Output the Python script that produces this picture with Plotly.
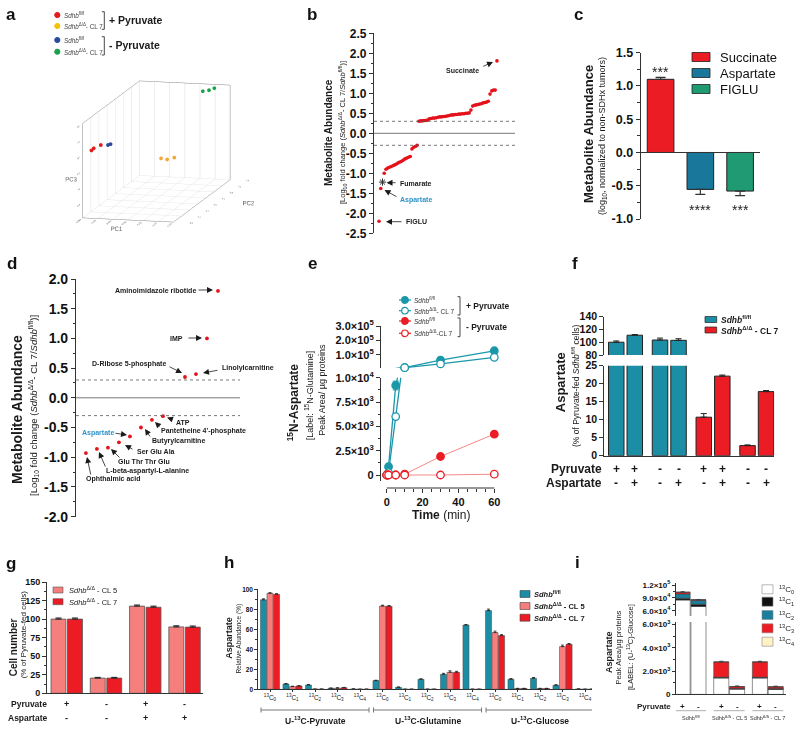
import plotly.graph_objects as go

# ======================= DATA =======================
# (a) PCA scores (PC1, PC2, PC3) for the four groups
a_names = ["<i>Sdhb</i><sup>fl/fl</sup>", "<i>Sdhb</i><sup>Δ/Δ</sup>- CL 7",
           "<i>Sdhb</i><sup>fl/fl</sup>", "<i>Sdhb</i><sup>Δ/Δ</sup>- CL 7"]
a_pc1 = [[-0.2985, -0.2980, -0.2962], [-0.2768, -0.2748, -0.2727],
         [-0.2933, -0.2930, -0.2927], [-0.2780, -0.2765, -0.2750]]
a_pc2 = [[-0.25, -0.24, -0.22], [-0.20, -0.20, -0.19],
         [-0.24, -0.25, -0.23], [0.36, 0.38, 0.39]]
a_pc3 = [[0.02, 0.04, 0.07], [-0.08, -0.09, -0.07],
         [0.09, 0.10, 0.095], [0.34, 0.34, 0.36]]
a_pc1_ticks = [-0.300, -0.295, -0.290, -0.285, -0.280, -0.275, -0.270]
a_pc2_ticks = [-0.3, -0.2, -0.1, 0.0, 0.1, 0.2, 0.3, 0.4]
a_pc3_ticks = [-0.8, -0.6, -0.4, -0.2, 0.0, 0.2, 0.4]

# (b) sorted log10 fold changes
b_special_names = ["FIGLU", "Aspartate", "Fumarate"]
b_special_values = [-2.20, -1.38, -1.22]
b_lower_values = [-1.00, -0.90, -0.87, -0.85, -0.83, -0.81, -0.79, -0.77, -0.74, -0.72,
                  -0.70, -0.67, -0.64, -0.62, -0.60, -0.58, -0.39, -0.35, -0.33, -0.30]
b_upper_values = [0.30, 0.31, 0.31, 0.32, 0.32, 0.33, 0.36, 0.37, 0.38, 0.38, 0.39, 0.40,
                  0.41, 0.41, 0.42, 0.42, 0.43, 0.44, 0.45, 0.46, 0.46, 0.47, 0.47, 0.48,
                  0.48, 0.49, 0.49, 0.50, 0.50, 0.51, 0.58, 0.68, 0.70, 0.71, 0.72, 0.73,
                  0.74, 0.76, 0.77, 0.78, 0.80, 0.98, 1.06, 1.08, 1.08]
b_succinate = 1.81
b_ticks = [-2.5, -2.0, -1.5, -1.0, -0.5, 0.0, 0.5, 1.0, 1.5, 2.0, 2.5]

# (c)
c_names = ["Succinate", "Aspartate", "FIGLU"]
c_values = [1.10, -0.555, -0.58]
c_err_up = [0.03, 0.0, 0.0]
c_err_down = [0.0, 0.075, 0.07]
c_stars = ["***", "****", "***"]
c_ticks = [-1.0, -0.5, 0.0, 0.5, 1.0, 1.5]

# (d)
d_names = ["Ophthalmic acid", "L-beta-aspartyl-L-alanine", "Glu Thr Thr Glu", "Ser Glu Ala",
           "Aspartate", "Butyrylcarnitine", "Pantetheine 4'-phosphate", "ATP",
           "D-Ribose 5-phosphate", "Linolylcarnitine", "IMP", "Aminoimidazole ribotide"]
d_rank = [1, 2, 3, 4, 5, 6, 7, 8, 10, 11, 12, 13]
d_values = [-0.93, -0.86, -0.84, -0.75, -0.65, -0.50, -0.37, -0.31, 0.35, 0.40, 1.00, 1.80]
d_ticks = [-2.0, -1.5, -1.0, -0.5, 0.0, 0.5, 1.0, 1.5, 2.0]

# (e) 15N-aspartate time course
e_time = [0, 1, 5, 10, 30, 60]
e_fl_pyr = [0, 850, 9200, 13000, 65000, 129000]
e_fl_pyr_err = [0, 0, 450, 0, 0, 0]
e_fl_nopyr = [0, 250, 6000, 12500, 38000, 84000]
e_dd_pyr = [0, 0, 0, 80, 1900, 4200]
e_dd_nopyr = [0, 0, 0, 0, 0, 80]
e_low_ticks = [0, 2500, 5000, 7500, 10000]
e_low_ticktext = ["0", "2.5×10<sup>3</sup>", "5.0×10<sup>3</sup>", "7.5×10<sup>3</sup>", "1.0×10<sup>4</sup>"]
e_up_ticks = [100000, 200000, 300000]
e_up_ticktext = ["1.0×10<sup>5</sup>", "2.0×10<sup>5</sup>", "3.0×10<sup>5</sup>"]
e_time_ticks = [0, 20, 40, 60]

# (f) aspartate levels
f_genotype = ["fl", "fl", "dd", "dd"]
f_pyruvate = ["+", "-", "+", "-"]
f_no_asp = [100, 103.5, 10.7, 2.8]
f_no_asp_err = [2, 3, 1.0, 0.2]
f_asp = [111, 103, 22.1, 17.8]
f_asp_err = [1, 2.5, 0.3, 0.3]
f_low_ticks = [0, 5, 10, 15, 20, 25]
f_up_ticks = [80, 100, 120, 140]

# (g) cell number
g_pyruvate = ["+", "-", "+", "-"]
g_aspartate = ["-", "-", "+", "+"]
g_cl5 = [100, 20.5, 117.5, 89.5]
g_cl5_err = [1.5, 1.0, 1.5, 1.5]
g_cl7 = [100, 20.5, 116, 89.2]
g_cl7_err = [1.5, 1.0, 1.5, 1.5]
g_ticks = [0, 25, 50, 75, 100, 125, 150]

# (h) isotopologue distribution
h_tracers = ["U-<sup>13</sup>C-Pyruvate", "U-<sup>13</sup>C-Glutamine", "U-<sup>13</sup>C-Glucose"]
h_isotopologues = ["<sup>13</sup>C<sub>0</sub>", "<sup>13</sup>C<sub>1</sub>", "<sup>13</sup>C<sub>2</sub>",
                   "<sup>13</sup>C<sub>3</sub>", "<sup>13</sup>C<sub>4</sub>"]
h_fl = [89.5, 5.3, 4.3, 1.0, 0.3, 8.7, 2.0, 10.0, 15.0, 64.3, 78.7, 10.0, 11.0, 4.0, 0.3]
h_fl_err = [1.0, 0.5, 0.5, 0.3, 0.1, 0.4, 0.3, 0.5, 1.0, 0.5, 1.5, 0.8, 0.8, 0.6, 0.1]
h_cl5 = [96.0, 2.7, 0.2, 1.2, 0.1, 83.3, 0.1, 0.1, 17.0, 0.1, 56.7, 0.8, 0.8, 42.7, 0.1]
h_cl5_err = [0.6, 0.4, 0.0, 0.3, 0.0, 0.8, 0.0, 0.0, 1.5, 0.0, 1.5, 0.2, 0.2, 1.5, 0.0]
h_cl7 = [95.0, 3.3, 0.2, 1.6, 0.1, 83.0, 0.1, 0.1, 17.0, 0.1, 53.7, 0.8, 0.8, 45.0, 0.1]
h_cl7_err = [0.6, 0.4, 0.0, 0.3, 0.0, 0.8, 0.0, 0.0, 1.0, 0.0, 1.0, 0.2, 0.2, 0.8, 0.0]
h_ticks = [0, 20, 40, 60, 80, 100]

# (i) labelled aspartate peak areas (stacked)
i_genotypes = ["Sdhb<sup>fl/fl</sup>", "Sdhb<sup>Δ/Δ</sup> - CL 5", "Sdhb<sup>Δ/Δ</sup> - CL 7"]
i_pyruvate = ["+", "-", "+", "-", "+", "-"]
i_iso_names = ["<sup>13</sup>C<sub>0</sub>", "<sup>13</sup>C<sub>1</sub>", "<sup>13</sup>C<sub>2</sub>",
               "<sup>13</sup>C<sub>3</sub>", "<sup>13</sup>C<sub>4</sub>"]
i_c0 = [85000, 70000, 1400, 450, 1400, 430]
i_c1 = [4000, 5000, 60, 60, 60, 60]
i_c2 = [10000, 9000, 20, 10, 20, 10]
i_c3 = [4000, 1500, 1300, 150, 1300, 150]
i_c4 = [200, 100, 5, 2, 5, 2]
i_top_err = [1500, 800, 60, 60, 60, 60]
i_low_ticks = [0, 2000, 4000, 6000]
i_low_ticktext = ["0", "2.0×10<sup>3</sup>", "4.0×10<sup>3</sup>", "6.0×10<sup>3</sup>"]
i_up_ticks = [60000, 90000, 120000]
i_up_ticktext = ["6.0×10<sup>4</sup>", "9.0×10<sup>4</sup>", "1.2×10<sup>5</sup>"]

# ======================= STYLE / HELPERS =======================
W, H = 800, 731
FONT = "Arial, Liberation Sans, sans-serif"
DARK = "#1a1a1a"
AX = "#333333"
TEAL = "#1B8EA6"
TEAL_E = "#1A98AA"
RED = "#EC1C24"
PINK = "#F47F7D"
BLUE_T = "#2E93C9"

annotations = []
shapes = []


def px(x):
    return x / W


def py(y):
    return 1 - y / H


def xdom(a, b):
    return [a / W, b / W]


def ydom(top, bottom):
    return [1 - bottom / H, 1 - top / H]


def T(x, y, s, size=8, bold=False, color=DARK, xanchor="center", yanchor="middle",
      angle=0, xref="paper", yref="paper"):
    annotations.append(dict(
        x=px(x) if xref == "paper" else x, y=py(y) if yref == "paper" else y,
        xref=xref, yref=yref, text=s, showarrow=False, textangle=angle,
        font=dict(family=FONT, size=size, color=color, weight="bold" if bold else "normal"),
        xanchor=xanchor, yanchor=yanchor, borderpad=0))


def A(hx, hy, tx, ty, color=DARK, width=0.8, size=1.5):
    annotations.append(dict(x=px(hx), y=py(hy), xref="paper", yref="paper",
                            ax=tx - hx, ay=ty - hy, text="", showarrow=True, arrowhead=2,
                            arrowsize=size, arrowwidth=width, arrowcolor=color, standoff=0))


def L(x0, y0, x1, y1, color=DARK, width=1, dash="solid", xref="paper", yref="paper"):
    shapes.append(dict(type="line", xref=xref, yref=yref,
                       x0=px(x0) if xref == "paper" else x0, x1=px(x1) if xref == "paper" else x1,
                       y0=py(y0) if yref == "paper" else y0, y1=py(y1) if yref == "paper" else y1,
                       line=dict(color=color, width=width, dash=dash)))


def R(x0, y0, x1, y1, fill, line="#222", lw=0.8):
    shapes.append(dict(type="rect", xref="paper", yref="paper", x0=px(x0), x1=px(x1),
                       y0=py(y1), y1=py(y0), fillcolor=fill, line=dict(color=line, width=lw)))


def C(cx, cy, r, fill, line=None, lw=1):
    shapes.append(dict(type="circle", xref="paper", yref="paper", x0=px(cx - r), x1=px(cx + r),
                       y0=py(cy + r), y1=py(cy - r), fillcolor=fill,
                       line=dict(color=line or fill, width=lw)))


def bracket(x, y0, y1, color=DARK):
    L(x - 2.5, y0, x, y0, color, 0.8)
    L(x, y0, x, y1, color, 0.8)
    L(x - 2.5, y1, x, y1, color, 0.8)


def tfont(size, bold=True, color="#111"):
    return dict(family=FONT, size=size, color=color, weight="bold" if bold else "normal")


def yax(domain, rng, anchor, tickvals, ticktext, size, minor=None, ticklen=4, lw=1.2):
    d = dict(domain=domain, range=rng, anchor=anchor, showline=True, linecolor=AX, linewidth=lw,
             ticks="outside", ticklen=ticklen, tickwidth=lw, tickcolor=AX, showgrid=False,
             zeroline=False, tickmode="array", tickvals=tickvals, ticktext=ticktext,
             tickfont=tfont(size), fixedrange=True, layer="above traces", automargin=False)
    if minor is not None:
        d["minor"] = dict(tickmode="array", tickvals=minor, ticks="outside",
                          ticklen=max(2, ticklen * 0.55), tickwidth=1, tickcolor=AX, showgrid=False)
    return d


def hidden_x(domain, rng, anchor):
    return dict(domain=domain, range=rng, anchor=anchor, visible=False, fixedrange=True, automargin=False)


def between(ticks):
    return [(ticks[k] + ticks[k + 1]) / 2 for k in range(len(ticks) - 1)]


fig = go.Figure()
layout = dict(width=W, height=H, margin=dict(l=0, r=0, t=0, b=0, pad=0, autoexpand=False),
              paper_bgcolor="white", plot_bgcolor="white", showlegend=False, barmode="overlay",
              font=dict(family=FONT, color=DARK))

# panel letters
for letter, x, y in [("a", 11, 15), ("b", 312, 15), ("c", 578, 15), ("d", 12, 263), ("e", 312, 263),
                     ("f", 575, 263), ("g", 11, 563), ("h", 229, 562), ("i", 577, 562)]:
    T(x, y, letter, 17, True, "#111")

# ======================= (a) =======================
a_colors = ["#E41A1C", "#F2A93B", "#2C4B9B", "#1AA34A"]
for i in range(4):
    fig.add_trace(go.Scatter3d(x=a_pc1[i], y=a_pc2[i], z=a_pc3[i], mode="markers",
                               marker=dict(size=2.2, color=a_colors[i]), scene="scene",
                               hoverinfo="skip"))


def ax3(title, rng, ticks, fmt, grid=True):
    return dict(title=dict(text=title, font=dict(family=FONT, size=6, color="#555")),
                range=rng, tickmode="array", tickvals=ticks, ticktext=[fmt.format(v) for v in ticks],
                showbackground=False, showgrid=grid, gridcolor="#dddddd", gridwidth=1,
                showline=True, mirror=True, linecolor="#888", linewidth=1, zeroline=False,
                showspikes=False, tickfont=dict(family=FONT, size=5, color="#555"))


layout["scene"] = dict(domain=dict(x=xdom(45, 268), y=ydom(58, 245)), bgcolor="white",
                       xaxis=ax3("PC1", [-0.300, -0.270], a_pc1_ticks, "{:.3f}"),
                       yaxis=ax3("PC2", [-0.3, 0.4], a_pc2_ticks, "{:.1f}"),
                       zaxis=ax3("PC3", [-0.8, 0.4], a_pc3_ticks, "{:.1f}", grid=False),
                       aspectmode="manual", aspectratio=dict(x=1, y=2.5, z=1.03),
                       camera=dict(eye=dict(x=0.625, y=-2.5, z=0.49), up=dict(x=0, y=0, z=1),
                                   center=dict(x=0, y=0, z=0),
                                   projection=dict(type="orthographic")))
# legend (a)
for k, yy in enumerate([15, 26, 40, 51.7]):
    C(57.3, yy, 2.6, a_colors[k] if k != 1 else "#F4C20D")
    T(62.7, yy, a_names[k], 6.3, False, "#444", xanchor="left")
bracket(104.3, 11.7, 29.3)
bracket(104.3, 36.7, 55)
T(108.3, 20, "+ Pyruvate", 10.5, True, xanchor="left")
T(108.3, 45, "- Pyruvate", 10.5, True, xanchor="left")

# ======================= (b) =======================
b_all = b_special_values + b_lower_values + b_upper_values + [b_succinate]
b_rank = list(range(len(b_all)))
fum_idx = b_special_names.index("Fumarate")
fig.add_trace(go.Scatter(x=[r for r in b_rank if r != fum_idx], y=[v for r, v in zip(b_rank, b_all) if r != fum_idx],
                         mode="markers", marker=dict(color="#E3121B", size=3.6), xaxis="x", yaxis="y",
                         cliponaxis=False, hoverinfo="skip"))
fig.add_trace(go.Scatter(x=[fum_idx], y=[b_all[fum_idx]], mode="markers",
                         marker=dict(symbol="asterisk-open", size=6, color="#333",
                                     line=dict(color="#333", width=1)),
                         xaxis="x", yaxis="y", cliponaxis=False, hoverinfo="skip"))
layout["xaxis"] = hidden_x(xdom(374, 515), [-2.9, 78.4], "y")
layout["yaxis"] = yax(ydom(33.3, 233.3), [-2.5, 2.5], "x", b_ticks, [f"{v:.1f}" for v in b_ticks], 12,
                      minor=between(b_ticks))
for yv, dash in [(0.3, "dot"), (0.0, "solid"), (-0.3, "dot")]:
    L(374, yv, 515, yv, "#555", 0.8, dash, yref="y")
T(328, 133, "Metabolite Abundance", 10, True, angle=-90)
T(342, 133, "[Log<sub>10</sub> fold change (<i>Sdhb</i><sup>Δ/Δ</sup>- CL 7/<i>Sdhb</i><sup>fl/fl</sup>)]",
  7.5, False, angle=-90)
T(462.7, 70.3, "Succinate", 7, True)
A(493, 62, 481.7, 67)
T(399, 183, "Fumarate", 7, True, xanchor="left")
A(386.5, 182.7, 397, 182.7)
T(399, 200, "Aspartate", 7, True, BLUE_T, xanchor="left")
A(384.5, 190, 398, 197.5)
T(405, 221.7, "FIGLU", 7, True, xanchor="left")
A(386, 221.7, 403, 221.7)

# ======================= (c) =======================
c_colors = [RED, "#18779A", "#1F9A72"]
fig.add_trace(go.Bar(x=list(range(3)), y=c_values, width=0.67, marker=dict(color=c_colors, line=dict(color="#222", width=1)),
                     error_y=dict(type="data", symmetric=False, array=c_err_up, arrayminus=c_err_down,
                                  color="#333", thickness=1.2, width=5),
                     xaxis="x2", yaxis="y2", hoverinfo="skip"))
layout["xaxis2"] = hidden_x(xdom(640.7, 760), [-0.5, 2.5], "y2")
layout["yaxis2"] = yax(ydom(52.7, 219), [-1.0, 1.5], "x2", c_ticks, [f"{v:.1f}" for v in c_ticks], 12.5,
                       minor=between(c_ticks))
L(640.7, 0, 760, 0, AX, 1.2, yref="y2")
for k, (s, yy) in enumerate(zip(c_stars, [72.3, 209.7, 209.7])):
    T(k, yy, s, 14, False, "#222", xref="x2")
for k, yy in enumerate([57, 73, 89]):
    R(692, yy - 4.5, 710, yy + 4.5, c_colors[k], "#222", 0.8)
    T(719, yy, c_names[k], 13, False, "#111", xanchor="left")
T(588, 134, "Metabolite Abundance", 13, True, angle=-90)
T(602, 136, "(log<sub>10</sub>, normalized to non-SDHx tumors)", 9, False, angle=-90)

# ======================= (d) =======================
fig.add_trace(go.Scatter(x=d_rank, y=d_values, mode="markers", marker=dict(color="#E3121B", size=3.8),
                         xaxis="x3", yaxis="y3", cliponaxis=False, hoverinfo="skip"))
layout["xaxis3"] = hidden_x(xdom(76, 240), [0.1, 15], "y3")
layout["yaxis3"] = yax(ydom(279, 516.6), [-2.0, 2.0], "x3", d_ticks, [f"{v:.1f}" for v in d_ticks], 14,
                       minor=between(d_ticks))
for yv, dash in [(0.3, "dot"), (0.0, "solid"), (-0.3, "dot")]:
    L(76, yv, 240, yv, "#555", 0.8, dash, yref="y3")
T(17, 410, "Metabolite Abundance", 14, True, angle=-90)
T(33, 406, "[Log<sub>10</sub> fold change (<i>Sdhb</i><sup>Δ/Δ</sup>- CL 7/<i>Sdhb</i><sup>fl/fl</sup>)]",
  9.5, False, angle=-90)
d_label_pos = [(113, 479, 87, 457, 91, 476), (147.7, 471, 99, 452, 106, 468), (143.8, 461, 111, 449, 121, 459),
               (156, 451, 125, 445, 134, 450), (98, 433, 127, 435, 114, 433), (178, 441, 145, 429, 151, 438),
               (203.7, 431, 155, 422, 161, 428), (183, 422, 167, 417.5, 174, 420), (129, 364, 182, 373, 168, 366),
               (None, 368, 203, 373, 219, 370), (176, 338, 202, 338, 187, 338), (155.8, 290, 213, 290, 197, 290)]
for name, (tx, ty, hx, hy, ax_, ay_) in zip(d_names, d_label_pos):
    col = BLUE_T if name == "Aspartate" else DARK
    if tx is None:
        T(221, ty, name, 7, True, col, xanchor="left")
    else:
        T(tx, ty, name, 7, True, col)
    A(hx, hy, ax_, ay_)

# ======================= (e) =======================
e_series = [(e_fl_pyr, TEAL_E, True, 1.3), (e_fl_nopyr, TEAL_E, False, 1.3),
            (e_dd_pyr, RED, True, 0.9), (e_dd_nopyr, RED, False, 0.9)]
BREAK_E = 10000
for k, (vals, col, filled, lw) in enumerate(e_series):
    line_col = col if col == TEAL_E else "#F07A7A"
    for xa, ya in [("x4", "y4"), ("x5", "y5")]:
        fig.add_trace(go.Scatter(x=e_time, y=vals, mode="lines", line=dict(color=line_col, width=lw),
                                 xaxis=xa, yaxis=ya, hoverinfo="skip"))
    mk = dict(size=7.5, color=col if filled else "white", line=dict(color=col, width=1.3))
    low = [v if v <= BREAK_E else None for v in vals]
    up = [v if v > BREAK_E else None for v in vals]
    err = dict(type="data", array=e_fl_pyr_err, color=col, thickness=1, width=3) if k == 0 else None
    fig.add_trace(go.Scatter(x=e_time, y=low, mode="markers", marker=mk, xaxis="x4", yaxis="y4",
                             error_y=err, cliponaxis=False, hoverinfo="skip"))
    fig.add_trace(go.Scatter(x=e_time, y=up, mode="markers", marker=mk, xaxis="x5", yaxis="y5",
                             cliponaxis=False, hoverinfo="skip"))
layout["xaxis4"] = dict(domain=xdom(381, 497), range=[-3.2, 61.5], anchor="free", position=py(488),
                        showline=False, ticks="outside", ticklen=4, tickwidth=1.2, tickcolor=AX,
                        tickmode="array", tickvals=e_time_ticks, ticktext=[str(v) for v in e_time_ticks],
                        tickfont=tfont(11), showgrid=False, zeroline=False, fixedrange=True, automargin=False,
                        minor=dict(tickmode="linear", tick0=0, dtick=5, ticks="outside", ticklen=2.5,
                                   tickwidth=1, tickcolor=AX, showgrid=False))
L(0, 488, 60, 488, AX, 1.2, xref="x4")
layout["yaxis4"] = yax(ydom(377.7, 481), [-617, 10000], "x4", e_low_ticks, e_low_ticktext, 11,
                       minor=between(e_low_ticks))
layout["xaxis5"] = hidden_x(xdom(381, 497), [-3.2, 61.5], "y5")
layout["yaxis5"] = yax(ydom(326, 368), [10000, 300000], "x5", e_up_ticks, e_up_ticktext, 11)
T(293.3, 402, "<sup>15</sup>N-Aspartate", 12, True, angle=-90)
T(309.3, 395, "[Label: <sup>15</sup>N-Glutamine]", 9, False, angle=-90)
T(321.7, 390, "Peak Area/ µg proteins", 9, False, angle=-90)
T(441, 515, "<b>Time</b> (min)", 12, False)
e_leg = ["<i>Sdhb</i><sup>fl/fl</sup>", "<i>Sdhb</i><sup>Δ/Δ</sup>- CL 7",
         "<i>Sdhb</i><sup>fl/fl</sup>", "<i>Sdhb</i><sup>Δ/Δ</sup>-CL 7"]
for k, yy in enumerate([300, 310.7, 321, 333.3]):
    vals, col, filled, lw = e_series[k]
    L(399, yy, 411, yy, col, 1.2)
    C(405, yy, 3.3, col if filled else "white", col, 1.2)
    T(413.3, yy, e_leg[k], 6.5, False, "#333", xanchor="left")
bracket(460, 296.7, 315)
bracket(460, 318, 336.7)
T(465, 305.7, "+ Pyruvate", 8.5, True, xanchor="left")
T(465, 327, "- Pyruvate", 8.5, True, xanchor="left")

# ======================= (f) =======================
F_SLOT, F_W = 0.423, 0.354
f_colors = [TEAL if g == "fl" else RED for g in f_genotype]
f_x = list(range(len(f_genotype)))
for m, (vals, errs) in enumerate([(f_no_asp, f_no_asp_err), (f_asp, f_asp_err)]):
    off = (m - 0.5) * F_SLOT - F_W / 2
    for xa, ya in [("x6", "y6"), ("x7", "y7")]:
        fig.add_trace(go.Bar(x=f_x, y=vals, offset=off, width=F_W,
                             marker=dict(color=f_colors, line=dict(color="#222", width=1)),
                             error_y=dict(type="data", symmetric=False, array=errs, arrayminus=[0] * 4,
                                          color="#222", thickness=1, width=3),
                             xaxis=xa, yaxis=ya, hoverinfo="skip"))
    for g in f_x:
        xc = g + (m - 0.5) * F_SLOT
        T(xc, 469.3, f_pyruvate[g], 12, True, xref="x6")
        T(xc, 483.3, "-" if m == 0 else "+", 12, True, xref="x6")
layout["xaxis6"] = dict(domain=xdom(604.3, 774.3), range=[-0.485, 3.40], anchor="y6", showline=True,
                        linecolor=AX, linewidth=1.2, ticks="", showticklabels=False, showgrid=False,
                        zeroline=False, fixedrange=True, automargin=False)
layout["yaxis6"] = yax(ydom(365.7, 455.7), [0, 25], "x6", f_low_ticks, [str(v) for v in f_low_ticks], 10.5)
layout["xaxis7"] = hidden_x(xdom(604.3, 774.3), [-0.485, 3.40], "y7")
layout["yaxis7"] = yax(ydom(316.7, 355), [80, 140], "x7", f_up_ticks, [str(v) for v in f_up_ticks], 10.5)
T(603, 469.3, "Pyruvate", 12, True, xanchor="right")
T(603, 483.3, "Aspartate", 12, True, xanchor="right")
T(560.7, 382.5, "Aspartate", 13, True, angle=-90)
T(575, 386, "(% of Pyruvate-fed <i>Sdhb</i><sup>fl/fl</sup> cells)", 8.5, False, angle=-90)
for k, (yy, col, lab) in enumerate([(319.5, TEAL, "<i>Sdhb</i><sup>fl/fl</sup>"),
                                     (330, RED, "<i>Sdhb</i><sup>Δ/Δ</sup> - CL 7")]):
    R(705, yy - 3, 716.7, yy + 3, col, "#222", 0.7)
    T(720, yy, lab, 8.5, True, xanchor="left")

# ======================= (g) =======================
G_SLOT, G_W = 0.42, 0.38
g_x = list(range(len(g_cl5)))
for m, (vals, errs, col) in enumerate([(g_cl5, g_cl5_err, PINK), (g_cl7, g_cl7_err, RED)]):
    fig.add_trace(go.Bar(x=g_x, y=vals, offset=(m - 0.5) * G_SLOT - G_W / 2, width=G_W,
                         marker=dict(color=col, line=dict(color="#555", width=0.8)),
                         error_y=dict(type="data", symmetric=False, array=errs, arrayminus=[0] * 4,
                                      color="#222", thickness=1, width=3),
                         xaxis="x8", yaxis="y8", hoverinfo="skip"))
for g in g_x:
    T(g, 704, g_pyruvate[g], 9, True, xref="x8")
    T(g, 717.7, g_aspartate[g], 9, True, xref="x8")
layout["xaxis8"] = dict(domain=xdom(46.7, 203), range=[-0.51, 3.47], anchor="y8", showline=True,
                        linecolor=AX, linewidth=1.2, ticks="", showticklabels=False, showgrid=False,
                        zeroline=False, fixedrange=True, automargin=False)
layout["yaxis8"] = yax(ydom(582, 693.3), [0, 150], "x8", g_ticks, [str(v) for v in g_ticks], 9,
                       minor=between(g_ticks), ticklen=3.5)
T(48, 704, "Pyruvate", 8.5, True, xanchor="right")
T(48, 717.7, "Aspartate", 8.5, True, xanchor="right")
T(13.3, 647, "Cell number", 10, True, angle=-90)
T(23.3, 635, "(% of Pyruvate-fed cells)", 8, False, angle=-90)
for yy, col, lab in [(590, PINK, "<i>Sdhb</i><sup>Δ/Δ</sup> - CL 5"), (601.7, RED, "<i>Sdhb</i><sup>Δ/Δ</sup> - CL 7")]:
    R(53, yy - 3, 63, yy + 3, col, "#555", 0.6)
    T(68, yy, lab, 7.5, False, "#222", xanchor="left")

# ======================= (h) =======================
H_SLOT, H_W = 0.29, 0.27
h_x = list(range(len(h_fl)))
for m, (vals, errs, col) in enumerate([(h_fl, h_fl_err, TEAL), (h_cl5, h_cl5_err, PINK), (h_cl7, h_cl7_err, RED)]):
    fig.add_trace(go.Bar(x=h_x, y=vals, offset=(m - 1) * H_SLOT - H_W / 2, width=H_W,
                         marker=dict(color=col, line=dict(color="#444", width=0.5)),
                         error_y=dict(type="data", symmetric=False, array=errs, arrayminus=[0] * len(errs),
                                      color="#222", thickness=0.8, width=1.5),
                         xaxis="x9", yaxis="y9", hoverinfo="skip"))
h_ticktext = [h_isotopologues[k % 5] for k in h_x]
layout["xaxis9"] = dict(domain=xdom(258.3, 592), range=[-0.52, 14.31], anchor="y9", showline=True,
                        linecolor=AX, linewidth=1, ticks="outside", ticklen=2, tickwidth=0.8, tickcolor=AX,
                        tickmode="array", tickvals=h_x, ticktext=h_ticktext, tickfont=tfont(6.5, False, "#222"),
                        showgrid=False, zeroline=False, fixedrange=True, automargin=False)
layout["yaxis9"] = yax(ydom(589.3, 689.3), [0, 100], "x9", h_ticks, [str(v) for v in h_ticks], 6.5,
                       minor=between(h_ticks), ticklen=3, lw=1)
for t, name in enumerate(h_tracers):
    c0 = t * 5
    L(c0 - 0.4, 710, c0 + 4.4, 710, "#777", 1, xref="x9")
    L(c0 - 0.4, 707.5, c0 - 0.4, 712.5, "#777", 1, xref="x9")
    L(c0 + 4.4, 707.5, c0 + 4.4, 712.5, "#777", 1, xref="x9")
    T(c0 + 2, 720.7, name, 8.5, True, xref="x9")
T(228.3, 637.5, "Aspartate", 9, True, angle=-90)
T(239.3, 638.3, "Relative Abundance (%)", 6.5, False, angle=-90)
for yy, col, lab in [(594, TEAL, "<i>Sdhb</i><sup>fl/fl</sup>"), (606, PINK, "<i>Sdhb</i><sup>Δ/Δ</sup> - CL 5"),
                     (617.7, RED, "<i>Sdhb</i><sup>Δ/Δ</sup> - CL 7")]:
    R(520, yy - 3.5, 530, yy + 3.5, col, "#444", 0.6)
    T(533.3, yy, lab, 7.5, True, xanchor="left")

# ======================= (i) =======================
I_SLOT, I_W = 0.41, 0.39
i_stack = [i_c0, i_c1, i_c2, i_c3, i_c4]
i_colors = ["white", "#111111", "#1A7F9C", RED, "#FFF3C4"]
i_x = [k // 2 for k in range(len(i_c0))]
i_off = [((k % 2) - 0.5) * I_SLOT - I_W / 2 for k in range(len(i_c0))]
base = [0] * len(i_c0)
for s, (vals, col) in enumerate(zip(i_stack, i_colors)):
    err = dict(type="data", symmetric=False, array=i_top_err, arrayminus=[0] * 6, color="#333",
               thickness=0.8, width=2) if s == 3 else None
    for xa, ya in [("x10", "y10"), ("x11", "y11")]:
        fig.add_trace(go.Bar(x=i_x, y=vals, base=list(base), offset=i_off, width=I_W,
                             marker=dict(color=col, line=dict(color="#444", width=0.6)),
                             error_y=err, xaxis=xa, yaxis=ya, hoverinfo="skip"))
    base = [b + v for b, v in zip(base, vals)]
layout["xaxis10"] = dict(domain=xdom(676, 786), range=[-0.376, 2.47], anchor="y10", showline=True,
                         linecolor=AX, linewidth=1, ticks="", showticklabels=False, showgrid=False,
                         zeroline=False, fixedrange=True, automargin=False)
layout["yaxis10"] = yax(ydom(622, 694.4), [0, 6200], "x10", i_low_ticks, i_low_ticktext, 8,
                        minor=between(i_low_ticks), ticklen=3, lw=1)
layout["xaxis11"] = hidden_x(xdom(676, 786), [-0.376, 2.47], "y11")
layout["yaxis11"] = yax(ydom(583.3, 616), [47600, 124000], "x11", i_up_ticks, i_up_ticktext, 8,
                        minor=between(i_up_ticks), ticklen=3, lw=1)
for k in range(len(i_pyruvate)):
    T(i_x[k] + ((k % 2) - 0.5) * I_SLOT, 706.7, i_pyruvate[k], 8, True, xref="x10")
for g, name in enumerate(i_genotypes):
    L(g - 0.4, 710.7, g + 0.4, 710.7, "#999", 0.8, xref="x10")
    T(g, 718.3, name, 5.5, False, "#333", xref="x10")
T(671.7, 706.7, "Pyruvate", 8, True, xanchor="right")
T(608.3, 651.7, "Aspartate", 9, True, angle=-90)
T(618.3, 647.3, "Peak Area/µg proteins", 7.5, False, angle=-90)
T(629.3, 646.7, "[LABEL: (U-<sup>13</sup>C)-Glucose]", 7.5, False, angle=-90)
for k, yy in enumerate([589.3, 601.7, 615, 628.3, 641.7]):
    R(762, yy - 4.5, 773, yy + 4.5, i_colors[k], "#888", 0.6)
    T(778, yy, i_iso_names[k], 8, False, "#222", xanchor="left")

layout["annotations"] = annotations
layout["shapes"] = shapes
fig.update_layout(**layout)
fig.write_html("out.html", config={"displayModeBar": False},
               post_script="document.body.style.margin='0px';document.body.style.overflow='hidden';")
